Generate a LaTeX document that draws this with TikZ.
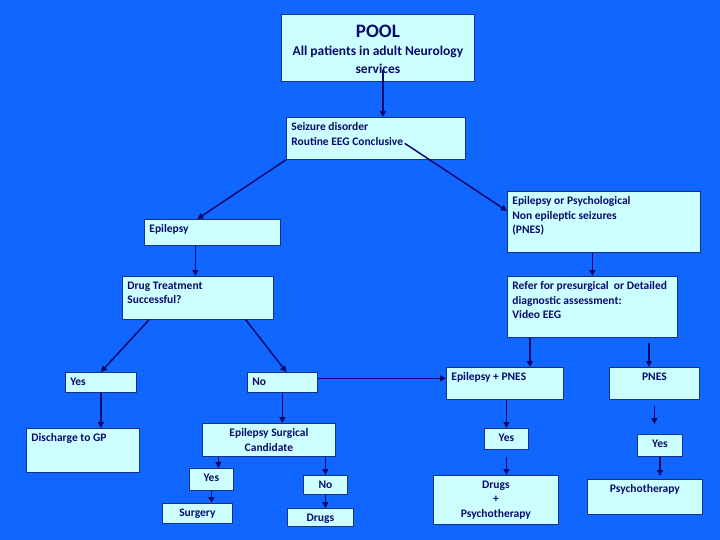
\documentclass[tikz,border=0pt]{standalone}
\usepackage{fontspec}
\setmainfont{Carlito}
\usetikzlibrary{arrows.meta, positioning}
\definecolor{bgblue}{RGB}{17,102,255}
\definecolor{boxfill}{RGB}{204,255,255}
\definecolor{boxline}{RGB}{20,50,140}
\definecolor{navy}{RGB}{10,10,110}
\tikzset{
    box/.style n args={3}{rectangle, draw=boxline, line width=0.8pt, fill=boxfill, text=navy, anchor=north west, inner xsep=5pt, inner ysep=3pt, font=\fontsize{11.5}{14.5}\selectfont\bfseries, execute at begin node={\begin{minipage}[c][#2][t]{#1}\vspace*{2.5pt}#3}, execute at end node={\end{minipage}}},
    box_left/.style 2 args={box={#1}{#2}{\raggedright}},
    box_center/.style 2 args={box={#1}{#2}{\centering}},
    arrow/.style={-{Triangle[length=6pt,width=6pt]}, line width=1.5pt, draw=navy}
}
\begin{document}
\begin{tikzpicture}[x=1pt, y=-1pt]

    % Background
    \fill[bgblue] (0,0) rectangle (720,540);
    \useasboundingbox (0,0) rectangle (720,540);

    % Boxes - Top
    \node[box_center={183pt}{61pt}] (pool) at (281,14)
    {\vspace*{5pt}\fontsize{19}{22}\selectfont POOL\par\vspace{1pt}\fontsize{13.5}{17}\selectfont All patients in adult Neurology\\[4pt]services};
    \node[box_left={169pt}{36pt}] (seizure) at (286,117) {Seizure disorder\\Routine EEG Conclusive};

    % Boxes - Epilepsy branch
    \node[box_left={126pt}{20pt}] (epi) at (144,219) {Epilepsy};
    \node[box_left={141pt}{37pt}] (drug) at (122,276) {Drug Treatment\\Successful?};
    \node[box_left={61pt}{14pt}] (yes1) at (65,372) {Yes};
    \node[box_left={60pt}{14pt}] (no1) at (247,372) {No};
    \node[box_left={103pt}{38pt}] (discharge) at (26,428) {Discharge to GP};
    \node[box_center={123pt}{27pt}] (esc) at (202,423) {Epilepsy Surgical\\Candidate};
    \node[box_center={34pt}{16pt}] (yes2) at (189,468) {Yes};
    \node[box_center={60pt}{14pt}] (surgery) at (162,503) {Surgery};
    \node[box_center={34pt}{13pt}] (no2) at (303,475) {No};
    \node[box_center={56pt}{12pt}] (drugs1) at (287,508) {Drugs};

    % Boxes - PNES branch
    \node[box_left={183pt}{55pt}] (epiq) at (507,191)
    {Epilepsy or Psychological\\Non epileptic seizures\\(PNES)};
    \node[box_left={160pt}{55pt}] (refer) at (507,276)
    {Refer for presurgical\ \ or Detailed\\diagnostic assessment:\\Video EEG};
    \node[box_left={107pt}{26pt}] (epnes) at (446,367) {Epilepsy + PNES};
    \node[box_center={80pt}{26pt}] (pnes) at (609,367) {PNES};
    \node[box_center={34pt}{15pt}] (yes3) at (484,428) {Yes};
    \node[box_center={115pt}{43pt}] (drugspsy) at (433,475) {Drugs\\+\\Psychotherapy};
    \node[box_center={35pt}{16pt}] (yes4) at (637,434) {Yes};
    \node[box_center={105pt}{29pt}] (psycho) at (587,479) {Psychotherapy};
    \coordinate (pnesin) at (649,343);

    % Arrows - Top
    \draw[arrow] ([xshift=5pt,yshift=12pt]pool.south) -- ([xshift=5pt]pool.south |- seizure.north);
    \draw[arrow] (seizure.south west) -- ([xshift=-15pt]epi.north);
    \draw[arrow] ([xshift=-61pt,yshift=-5pt]seizure.east) -- ([yshift=11pt]epiq.west);

    % Arrows - Epilepsy branch
    \draw[arrow] ([xshift=-17pt]epi.south) -- ([xshift=-17pt]epi.south |- drug.north);
    \draw[arrow] ([xshift=27pt]drug.south west) -- (yes1.north);
    \draw[arrow] ([xshift=-28pt]drug.south east) -- ([xshift=4pt]no1.north);
    \draw[arrow] (yes1.south) -- (yes1.south |- discharge.north);
    \draw[arrow] (no1.south) -- (no1.south |- esc.north);
    \draw[arrow] ([yshift=4pt]no1.east) -- ([yshift=4pt]no1.east -| epnes.west);
    \draw[arrow] ([xshift=7pt]yes2.north |- esc.south) -- ([xshift=7pt]yes2.north);
    \draw[arrow] (yes2.south) -- (yes2.south |- surgery.north);
    \draw[arrow] (no2.north |- esc.south) -- (no2.north);
    \draw[arrow] (no2.south) -- (no2.south |- drugs1.north);

    % Arrows - PNES branch
    \draw[arrow] (epiq.south -| refer.north) -- (refer.north);
    \draw[arrow] ([xshift=25pt]epnes.north |- refer.south) -- ([xshift=25pt]epnes.north);
    \draw[arrow] (pnesin) -- (pnesin |- pnes.north);
    \draw[arrow] (yes3.north |- epnes.south) -- (yes3.north);
    \draw[arrow] ([yshift=-7pt]yes3.south) -- (yes3.south |- drugspsy.north);
    \draw[arrow] ([yshift=-6pt]pnes.south) -- ([yshift=10pt]pnes.south |- yes4.north);
    \draw[arrow] (yes4.south) -- ([yshift=3pt]yes4.south |- psycho.north);

\end{tikzpicture}
\end{document}
